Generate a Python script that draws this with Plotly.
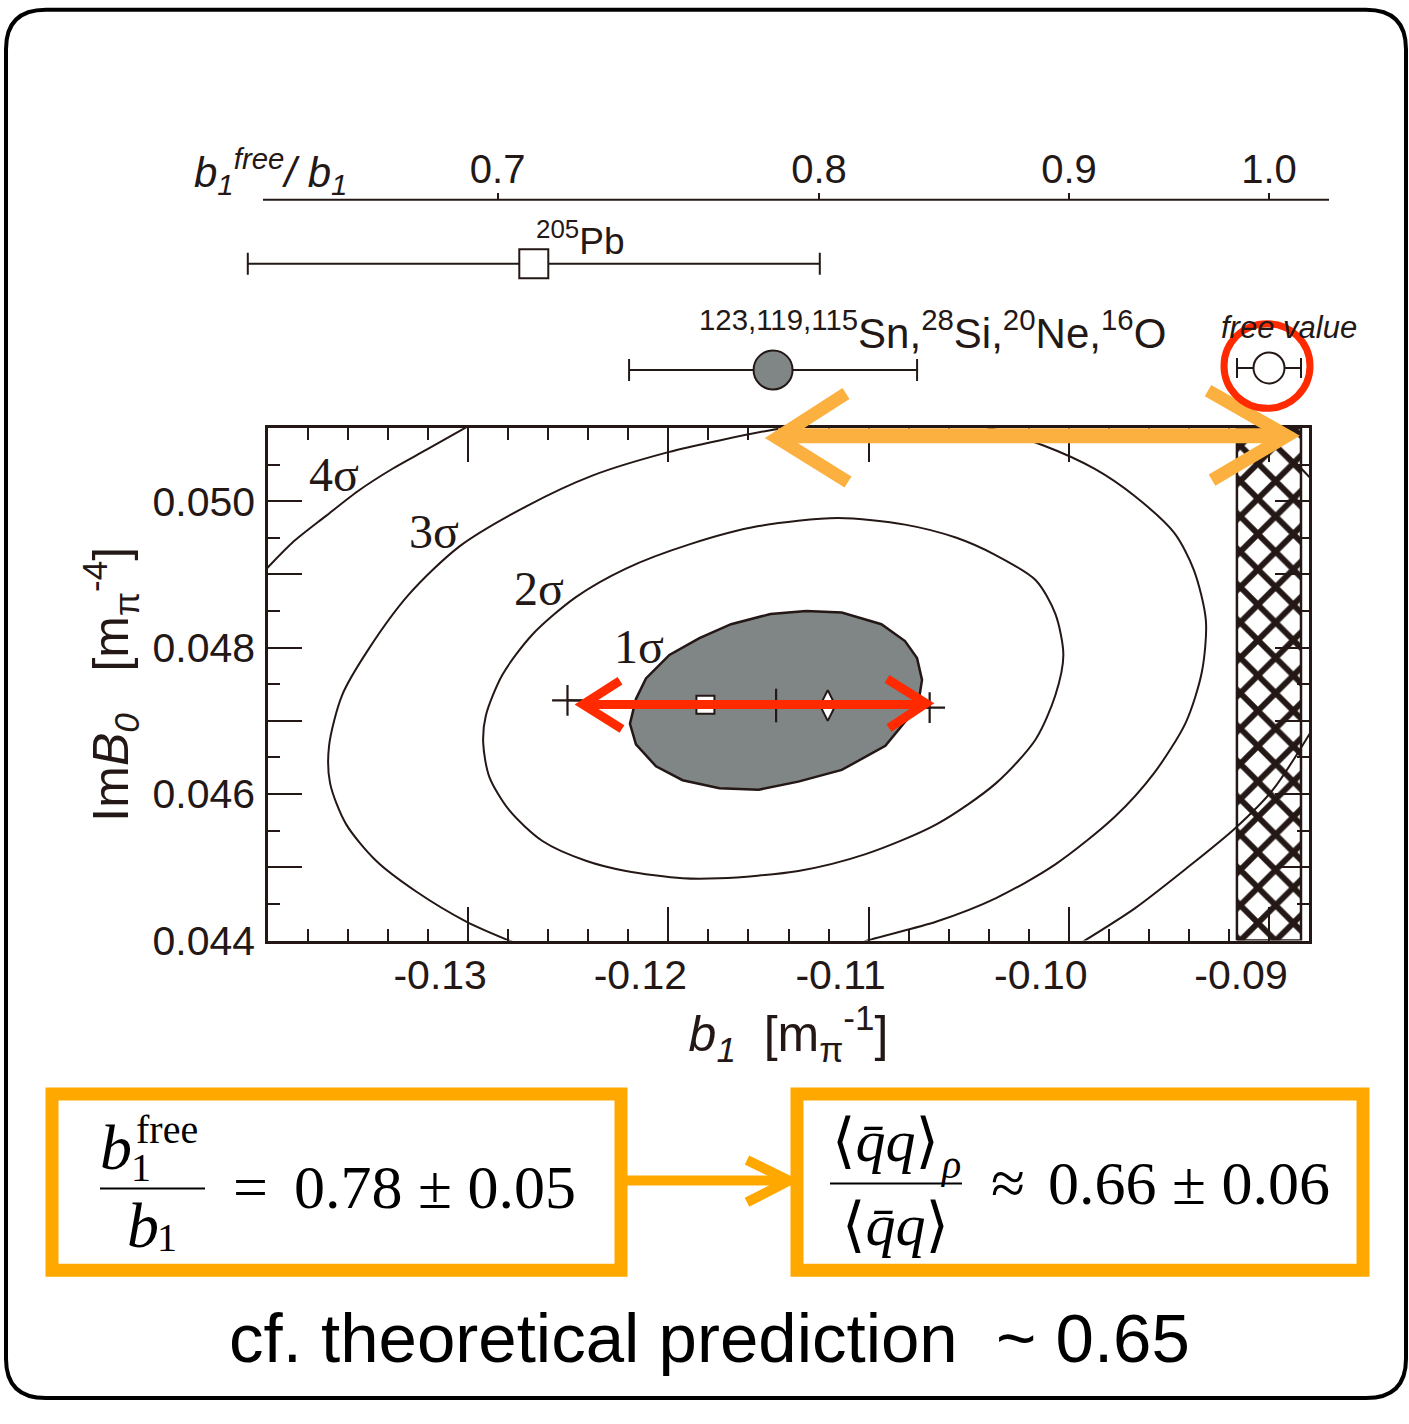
import plotly.graph_objects as go

W, H = 1409, 1424
INK = "#231815"
GRAY = "#808585"
ORANGE = "#FFA800"
ORANGE_LIGHT = "#FBB040"
RED = "#FF2A00"
SANS = "Liberation Sans, Arial, Helvetica, sans-serif"
SERIF = "Liberation Serif, Times New Roman, DejaVu Serif, serif"

# ---------------- data ----------------
X_RANGE = [-0.140, -0.088]
Y_RANGE = [0.044, 0.051]
X_TICKS = [-0.13, -0.12, -0.11, -0.10, -0.09]
X_TICKTEXT = ["-0.13", "-0.12", "-0.11", "-0.10", "-0.09"]
Y_TICKS = [0.044, 0.045, 0.046, 0.047, 0.048, 0.049, 0.050, 0.051]
Y_TICKTEXT = ["0.044", "", "0.046", "", "0.048", "", "0.050", ""]

# free-nucleon value of b1 and its uncertainty (hatched band)
B1_FREE = -0.0900
B1_FREE_ERR = 0.0016

# top scale  b1_free / b1
RATIO_TICKS = [0.7, 0.8, 0.9, 1.0]
RATIO_TICKTEXT = ["0.7", "0.8", "0.9", "1.0"]
TOP_LABELS = ["205Pb", "Sn,Si,Ne,O", "free value"]
TOP_RATIO = [0.71, 0.784, 1.0]
TOP_B1_ERR = [0.0143, 0.0072, 0.0016]
TOP_ROW = [0.70, 0.203, 0.212]

# chi^2 contours (b1, ImB0)
C1_X = [-0.11312, -0.1149, -0.11687, -0.11845, -0.11995, -0.12112, -0.12162, -0.12192,
        -0.12162, -0.12062, -0.11929, -0.11745, -0.11549, -0.11351, -0.11134, -0.10916,
        -0.10778, -0.10748, -0.10733, -0.10758, -0.10818, -0.10936, -0.11134, -0.11312]
C1_Y = [0.04850, 0.04846, 0.04832, 0.04813, 0.04790, 0.04758, 0.04730, 0.04696,
        0.04668, 0.04638, 0.04619, 0.04608, 0.04606, 0.04617, 0.04633, 0.04666,
        0.04712, 0.04730, 0.04756, 0.04786, 0.04809, 0.04832, 0.04848, 0.04850]

C2_X = [-0.11154, -0.11549, -0.11895, -0.12212, -0.12462, -0.12679, -0.12829,
        -0.12912, -0.12925, -0.12895, -0.12795, -0.12629, -0.12412, -0.12212, -0.11929,
        -0.11746, -0.11351, -0.11015, -0.10659, -0.10363, -0.10165, -0.10067, -0.10027,
        -0.10067, -0.10165, -0.10363, -0.10561, -0.10818, -0.11154]
C2_Y = [0.04977, 0.04966, 0.04941, 0.04908, 0.04869, 0.04818, 0.04763,
        0.04707, 0.04670, 0.04624, 0.04578, 0.04536, 0.04509, 0.04495, 0.04485,
        0.04485, 0.04495, 0.04518, 0.04559, 0.04615, 0.04675, 0.04735, 0.04790,
        0.04846, 0.04892, 0.04926, 0.04950, 0.04968, 0.04977]

C3_X = [-0.1149, -0.11745, -0.1200, -0.1238, -0.1271, -0.13045, -0.13295, -0.13495,
        -0.1363, -0.13695, -0.1369, -0.1361, -0.1346, -0.1326, -0.1301, -0.12795,
        -0.1268, -0.1235, -0.1190, -0.1145, -0.1110, -0.11005, -0.1066, -0.10363,
        -0.10067, -0.0977, -0.09573, -0.09415, -0.09335, -0.09315, -0.09375, -0.09474,
        -0.09671, -0.0987, -0.10126, -0.10445, -0.1085, -0.1120, -0.1149]
C3_Y = [0.05097, 0.05083, 0.05067, 0.05035, 0.04993, 0.04938, 0.04873, 0.04799,
        0.04735, 0.04666, 0.04615, 0.04559, 0.04509, 0.04467, 0.04426, 0.04400,
        0.04388, 0.04372, 0.04366, 0.04375, 0.04390, 0.04400, 0.04426, 0.04458,
        0.04504, 0.04569, 0.04629, 0.04698, 0.04767, 0.04837, 0.04906, 0.04957,
        0.05007, 0.05044, 0.05076, 0.05103, 0.05112, 0.05108, 0.05097]

C4A_X = [-0.1299, -0.1321, -0.1338, -0.1355, -0.1371, -0.1388, -0.1402]
C4A_Y = [0.05104, 0.05070, 0.05044, 0.05014, 0.04980, 0.04943, 0.04904]
C4B_X = [-0.0995, -0.0967, -0.0941, -0.0917, -0.0898, -0.0876]
C4B_Y = [0.04395, 0.04444, 0.04499, 0.04553, 0.04606, 0.04699]
C4C_X = [-0.0927, -0.09065, -0.0892, -0.0877]
C4C_Y = [0.05107, 0.05095, 0.05066, 0.05025]

# best-fit markers and range in the main panel
RANGE_X = [-0.12504, -0.11462, -0.10695]
RANGE_Y = [0.04728, 0.04721, 0.04718]
PB_FIT = (-0.11815, 0.04722)
SN_FIT = (-0.11204, 0.04721)

SIGMA_TEXT = ["4σ", "3σ", "2σ", "1σ"]
SIGMA_X = [-0.1367, -0.1317, -0.12645, -0.12145]
SIGMA_Y = [0.05037, 0.04959, 0.04881, 0.04802]


def px(x):
    return x / W


def py(y):
    return 1 - y / H


fig = go.Figure()

# hatched band: free value of b1
bx0, bx1 = B1_FREE - B1_FREE_ERR, B1_FREE + B1_FREE_ERR
fig.add_trace(go.Scatter(
    x=[bx0, bx1, bx1, bx0, bx0], y=[Y_RANGE[0], Y_RANGE[0], Y_RANGE[1], Y_RANGE[1], Y_RANGE[0]],
    mode="lines", fill="toself", fillcolor="white",
    fillpattern=dict(shape="x", size=25, solidity=0.41, fgcolor=INK, fgopacity=1,
                     bgcolor="white"),
    line=dict(color=INK, width=2.5), hoverinfo="skip", showlegend=False))

for cx, cy in [(C3_X, C3_Y), (C2_X, C2_Y), (C4A_X, C4A_Y), (C4B_X, C4B_Y), (C4C_X, C4C_Y)]:
    fig.add_trace(go.Scatter(x=cx, y=cy, mode="lines",
                             line=dict(color=INK, width=2, shape="spline", smoothing=0.8),
                             showlegend=False, hoverinfo="skip"))

fig.add_trace(go.Scatter(x=C1_X, y=C1_Y, mode="lines", fill="toself", fillcolor=GRAY,
                         line=dict(color=INK, width=2.5), showlegend=False, hoverinfo="skip"))

# range line with end crosses
fig.add_trace(go.Scatter(x=RANGE_X, y=RANGE_Y, mode="lines", line=dict(color=INK, width=2),
                         showlegend=False, hoverinfo="skip"))
fig.add_trace(go.Scatter(x=[RANGE_X[0], RANGE_X[2]], y=[RANGE_Y[0], RANGE_Y[2]], mode="markers",
                         marker=dict(symbol="cross-thin", size=22, line=dict(color=INK, width=2.2)),
                         showlegend=False, hoverinfo="skip"))
fig.add_trace(go.Scatter(x=[RANGE_X[1]], y=[RANGE_Y[1]], mode="markers",
                         marker=dict(symbol="line-ns", size=24, line=dict(color=INK, width=2.2)),
                         showlegend=False, hoverinfo="skip"))
fig.add_trace(go.Scatter(x=[PB_FIT[0]], y=[PB_FIT[1]], mode="markers",
                         marker=dict(symbol="square", size=18, color="white", line=dict(color=INK, width=2)),
                         showlegend=False, hoverinfo="skip"))
fig.add_trace(go.Scatter(x=[SN_FIT[0]], y=[SN_FIT[1]], mode="markers",
                         marker=dict(symbol="diamond-tall", size=22, color="white", line=dict(color=INK, width=2)),
                         showlegend=False, hoverinfo="skip"))

# top panel points (b1 = b1_free / ratio)
top_styles = [
    dict(symbol="square", size=29, color="white", cap=11),
    dict(symbol="circle", size=39, color=GRAY, cap=11),
    dict(symbol="circle", size=31, color="white", cap=10),
]
for r, e, row, st in zip(TOP_RATIO, TOP_B1_ERR, TOP_ROW, top_styles):
    fig.add_trace(go.Scatter(
        x=[B1_FREE / r], y=[row], xaxis="x2", yaxis="y2", mode="markers", cliponaxis=False,
        marker=dict(symbol=st["symbol"], size=st["size"], color=st["color"], line=dict(color=INK, width=2)),
        error_x=dict(type="data", array=[e], symmetric=True, color=INK, thickness=2, width=st["cap"]),
        showlegend=False, hoverinfo="skip"))

# ---------------- decorations ----------------
shapes = []


def seg(pts, color, width):
    d = "M " + " L ".join(f"{px(x):.5f},{py(y):.5f}" for x, y in pts)
    shapes.append(dict(type="path", path=d, xref="paper", yref="paper",
                       line=dict(color=color, width=width), layer="above"))


# outer rounded frame
L, T, R, B, rad = 6, 10, 1406, 1421, 40
frame = (f"M {px(L+rad)},{py(T)} L {px(R-rad)},{py(T)} Q {px(R)},{py(T)} {px(R)},{py(T+rad)} "
         f"L {px(R)},{py(B-rad)} Q {px(R)},{py(B)} {px(R-rad)},{py(B)} "
         f"L {px(L+rad)},{py(B)} Q {px(L)},{py(B)} {px(L)},{py(B-rad)} "
         f"L {px(L)},{py(T+rad)} Q {px(L)},{py(T)} {px(L+rad)},{py(T)} Z")
shapes.append(dict(type="path", path=frame, xref="paper", yref="paper", line=dict(color="black", width=4)))

# top ratio axis line
seg([(263, 203), (1329, 203)], INK, 2)

# orange top arrow
seg([(778, 443), (1285, 443)], ORANGE_LIGHT, 15)
seg([(846, 400), (777, 445), (848, 490)], ORANGE_LIGHT, 13)
seg([(1208, 397), (1287, 443), (1212, 488)], ORANGE_LIGHT, 13)

# red double arrow
seg([(588, 716), (922, 716)], RED, 9)
seg([(620, 692), (583, 716), (622, 741)], RED, 9)
seg([(887, 690), (926, 715), (889, 740)], RED, 9)

# red circle
shapes.append(dict(type="circle", xref="paper", yref="paper",
                   x0=px(1224), x1=px(1310), y0=py(415), y1=py(329),
                   line=dict(color=RED, width=7)))

# orange boxes and connector
for x0, x1 in [(52, 621), (797, 1363)]:
    shapes.append(dict(type="rect", xref="paper", yref="paper", x0=px(x0), x1=px(x1),
                       y0=py(1291), y1=py(1112), line=dict(color=ORANGE, width=13)))
seg([(621, 1200), (784, 1200)], ORANGE, 10)
seg([(747, 1179), (789, 1200), (747, 1222)], ORANGE, 10)

# fraction bars
seg([(100, 1208), (205, 1208)], "black", 2)
seg([(830, 1203), (962, 1203)], "black", 2)

annotations = []


def txt(x, y, s, size, family=SANS, xanchor="center", color=INK):
    annotations.append(dict(x=px(x), y=py(y), xref="paper", yref="paper", text=s, showarrow=False,
                            xanchor=xanchor, yanchor="middle",
                            font=dict(size=size, family=family, color=color)))


# top axis title
txt(270, 174, "<i>b<sub>1</sub><sup>free</sup>/ b<sub>1</sub></i>", 42)

# top panel labels
annotations.append(dict(x=B1_FREE / TOP_RATIO[0], y=0.82, xref="x2", yref="y2", xanchor="left",
                        yanchor="middle", showarrow=False, xshift=0,
                        text="<sup>205</sup>Pb", font=dict(size=37, family=SANS, color=INK)))
annotations.append(dict(x=B1_FREE / TOP_RATIO[1], y=0.39, xref="x2", yref="y2", xanchor="left",
                        yanchor="middle", showarrow=False, xshift=-76,
                        text="<sup>123,119,115</sup>Sn,<sup>28</sup>Si,<sup>20</sup>Ne,<sup>16</sup>O",
                        font=dict(size=42, family=SANS, color=INK)))
annotations.append(dict(x=B1_FREE / TOP_RATIO[2], y=0.40, xref="x2", yref="y2", xanchor="center",
                        yanchor="middle", showarrow=False, xshift=20,
                        text="<i>free value</i>", font=dict(size=31, family=SANS, color=INK)))

# sigma labels
for s, sx, sy in zip(SIGMA_TEXT, SIGMA_X, SIGMA_Y):
    annotations.append(dict(x=sx, y=sy, xref="x", yref="y", text=s, showarrow=False,
                            font=dict(size=48, family=SERIF, color=INK)))

# formula boxes
txt(116, 1166, "<i>b</i>", 64, SERIF, color="black")
txt(167, 1148, "free", 40, SERIF, color="black")
txt(141, 1187, "1", 40, SERIF, color="black")
txt(143, 1246, "<i>b</i>", 64, SERIF, color="black")
txt(167, 1258, "1", 40, SERIF, color="black")
txt(251, 1206, "=", 62, SERIF, color="black")
txt(435, 1206, "0.78 ± 0.05", 62, SERIF, color="black")

txt(885, 1160, "⟨<i>q\u0304q</i>⟩", 60, SERIF, color="black")
txt(951, 1184, "<i>ρ</i>", 40, SERIF, color="black")
txt(895, 1245, "⟨<i>q\u0304q</i>⟩", 60, SERIF, color="black")
txt(1008, 1202, "≈", 62, SERIF, color="black")
txt(1189, 1202, "0.66 ± 0.06", 62, SERIF, color="black")

txt(710, 1360, "cf. theoretical prediction  ~ 0.65", 69, SANS, color="black")

axis_common = dict(showgrid=False, zeroline=False, linecolor=INK, tickcolor=INK)
X2_RANGE = [-0.14145, -0.0870]

fig.update_layout(
    width=W, height=H, autosize=False,
    margin=dict(l=0, r=0, t=0, b=0),
    paper_bgcolor="white", plot_bgcolor="white",
    showlegend=False,
    xaxis=dict(
        domain=[px(268), px(1309)], range=X_RANGE, anchor="y",
        tickmode="array", tickvals=X_TICKS, ticktext=X_TICKTEXT,
        ticks="inside", ticklen=34, tickwidth=2, showline=True, linewidth=2.5, mirror="ticks",
        minor=dict(tick0=-0.14, dtick=0.002, ticks="inside", ticklen=12, tickwidth=2, tickcolor=INK,
                   showgrid=False),
        tickfont=dict(size=41, family=SANS, color=INK), ticklabelshift=-28, ticklabelstandoff=-4,
        title=dict(text="<i>b<sub>1</sub></i>  [m<sub>π</sub><sup>-1</sup>]",
                   font=dict(size=50, family=SANS, color=INK), standoff=20),
        **axis_common),
    yaxis=dict(
        domain=[py(956), py(435)], range=Y_RANGE, anchor="x",
        tickmode="array", tickvals=Y_TICKS, ticktext=Y_TICKTEXT,
        ticks="inside", ticklen=34, tickwidth=2, showline=True, linewidth=2.5, mirror="ticks",
        minor=dict(tick0=0.044, dtick=0.0005, ticks="inside", ticklen=12, tickwidth=2, tickcolor=INK,
                   showgrid=False),
        tickfont=dict(size=41, family=SANS, color=INK), ticklabelstandoff=2,
        title=dict(text="Im<i>B<sub>0</sub></i>   [m<sub>π</sub><sup>-4</sup>]",
                   font=dict(size=50, family=SANS, color=INK), standoff=8),
        **axis_common),
    xaxis2=dict(
        domain=[px(240), px(1329)], range=X2_RANGE, anchor="y2", side="top",
        tickmode="array", tickvals=[B1_FREE / r for r in RATIO_TICKS], ticktext=RATIO_TICKTEXT,
        ticks="outside", ticklen=6, tickwidth=2, showline=False,
        tickfont=dict(size=40, family=SANS, color=INK), ticklabelstandoff=-6,
        **axis_common),
    xaxis3=dict(
        overlaying="x2", range=X2_RANGE, anchor="y2", side="top",
        tickmode="array", tickvals=[B1_FREE / r for r in RATIO_TICKS],
        ticks="inside", ticklen=8, tickwidth=2, showline=False, showticklabels=False,
        **axis_common),
    yaxis2=dict(domain=[py(420), py(203)], range=[0, 1], anchor="x2", visible=False),
    shapes=shapes,
    annotations=annotations,
)

fig.write_html("out.html")
